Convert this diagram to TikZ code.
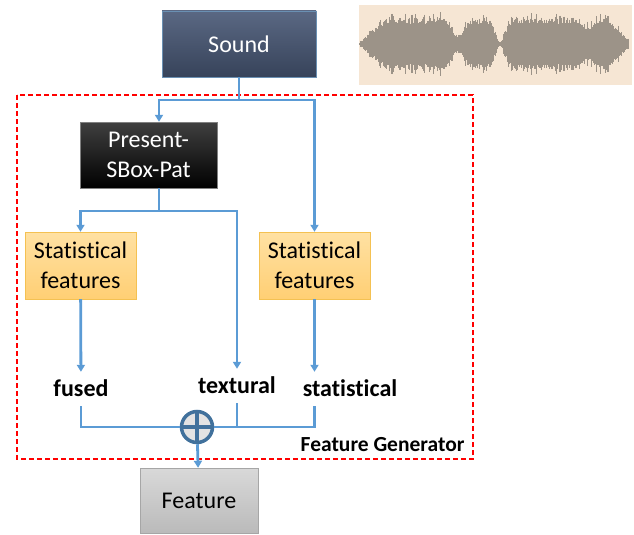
\documentclass[tikz,border=0pt]{standalone}
\usepackage{fontspec}
\setmainfont{Carlito}[RawFeature={-liga;-clig;-calt;-dlig}]
\usetikzlibrary{arrows.meta}
\definecolor{flowblue}{HTML}{5B9BD5}
\definecolor{sumblue}{HTML}{41719C}
\definecolor{wavebg}{HTML}{F6E6D4}
\definecolor{wavefg}{HTML}{9C9388}
\definecolor{soundtop}{HTML}{5A6883}
\definecolor{soundbot}{HTML}{37435A}
\definecolor{statline}{HTML}{F4C152}
\definecolor{stattop}{HTML}{FFE1A3}
\definecolor{statbot}{HTML}{FFCF74}
\begin{document}
\begin{tikzpicture}[x=1pt, y=-1pt,
  >={Triangle[length=7pt,width=8pt]},
  declare function={notch(\t,\c,\w)=exp(-min(9,((\t-\c)/\w)*((\t-\c)/\w)));
    env(\t)=34*min(1,(\t-358)/30)*min(1,(633-\t)/26)*(1-0.68*notch(\t,458,8))*(1-0.92*notch(\t,500,7))*(1-0.3*notch(\t,588,7));},
  box/.style={draw, align=center, inner sep=0pt, font=\fontsize{24}{30}\selectfont},
  sound/.style={box, draw=flowblue!60!gray, top color=soundtop, bottom color=soundbot, text=white, minimum width=154pt, minimum height=66pt},
  pres/.style={box, draw=gray, top color=black!75, bottom color=black, text=white, minimum width=137pt, minimum height=66pt},
  stat/.style={box, draw=statline, top color=stattop, bottom color=statbot, minimum width=111pt, minimum height=67pt},
  feat/.style={box, draw=black!35, top color=black!15, bottom color=black!27, minimum width=118pt, minimum height=65pt},
  lbl/.style={font=\fontsize{24}{30}\selectfont\bfseries, inner xsep=0pt, inner ysep=10pt, text height=14pt, text depth=0pt, anchor=base},
  sumnode/.style={circle, draw=sumblue, line width=3.5pt, fill=black!11, minimum size=31pt, inner sep=0pt,
    path picture={\draw[sumblue, line width=3.5pt] (path picture bounding box.north) -- (path picture bounding box.south)
      (path picture bounding box.west) -- (path picture bounding box.east);}},
  flow/.style={draw=flowblue, line width=2.8pt},
  wave/.style={draw=wavefg, line width=1.1pt}
]
\useasboundingbox (0,0) rectangle (634,535);

% sound sample
\fill[wavebg] (359,5) rectangle (632,85);
\pgfmathsetseed{3}
\foreach \x in {360,360.8,...,629}{
  \pgfmathsetmacro\a{env(\x)*(0.6+0.4*rnd*rnd)}
  \draw[wave] (\x,44-\a) -- (\x,44+\a);
}

\draw[red, line width=1.3pt, dash pattern=on 5pt off 3pt] (17,95) rectangle (473,459);

\node[sound] (snd) at (239,44) {Sound};
\node[pres] (pat) at (148.5,155) {Present-\\SBox-Pat};
\node[stat] (st1) at (80.5,265.5) {Statistical\\features};
\node[stat] (st2) at (314.5,265.5) {Statistical\\features};
\node[lbl] (fus) at (81,396) {fused};
\node[lbl] (tex) at (237,393) {textural};
\node[lbl] (sta) at (350,396) {statistical};
\node[sumnode] (sum) at (197,427) {};
\node[feat] (feature) at (199,500.5) {Feature};
\node[anchor=base east, font=\fontsize{21.5}{26}\selectfont\bfseries] (gen) at (468,451) {Feature Generator};

\coordinate (j1) at (239,100);
\coordinate (j2) at (159,211);

\draw[flow] (snd) -- (j1);
\draw[flow,->] (j1) -| (pat.north -| j2);
\draw[flow,->] (j1) -| (st2.north);
\draw[flow] (pat.south -| j2) -- (j2);
\draw[flow,->] (j2) -| (st1.north);
\draw[flow,->] (j2) -| (tex.north);
\draw[flow,->] (st1) -- (fus);
\draw[flow,->] (st2.south) -- (st2.south |- sta.north);
\draw[flow] (fus.south) |- (sum.west);
\draw[flow] (sta.south -| st2.south) |- (sum.east);
\draw[flow] (tex.south) -- (tex.south |- sum);
\draw[flow,->] (sum) -- (feature);
\end{tikzpicture}
\end{document}
